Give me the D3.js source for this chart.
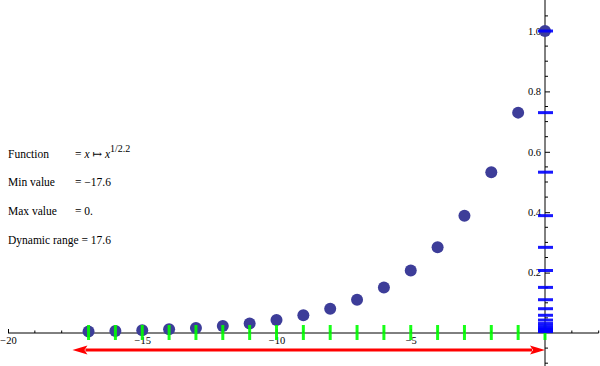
<!DOCTYPE html>
<html>
<head>
	<meta charset="utf-8">
	<title>Gamma 1/2.2</title>
	<script src="https://cdnjs.cloudflare.com/ajax/libs/d3/7.8.5/d3.min.js"></script>
	<style>
		body { margin: 0; background: white; }
		svg { display: block; font-family: "Liberation Serif", "DejaVu Serif", serif; }
		.axis path, .axis line { stroke: black; }
		.axis text { font-size: 10.5px; font-family: "Liberation Serif", serif; fill: black; }
		.info text { font-size: 11.5px; }
	</style>
</head>
<body>
	<svg id="chart" width="600" height="366"></svg>
	<script>
		// stops below max, and encoded value (x -> x^(1/2.2))
		var stops = [-17,-16,-15,-14,-13,-12,-11,-10,-9,-8,-7,-6,-5,-4,-3,-2,-1,0];
		var values = [0.0047,0.0065,0.0089,0.0121,0.0166,0.0228,0.0313,0.0428,0.0587,0.0804,0.1102,0.151,0.2069,0.2836,0.3886,0.5325,0.7297,1.0];
		var xMajor = [-20,-15,-10,-5];
		var xMinor = [-19,-18,-17,-16,-14,-13,-12,-11,-9,-8,-7,-6,-4,-3,-2,-1,0,1,2];
		var yMajor = [0.2,0.4,0.6,0.8,1.0];
		var yMinor = [-0.1,-0.05,0.05,0.1,0.15,0.25,0.3,0.35,0.45,0.5,0.55,0.65,0.7,0.75,0.85,0.9,0.95,1.05];
		var rangeMin = -17.6, rangeMax = 0;
		var infoLabels = ["Function", "Min value", "Max value", "Dynamic range = 17.6"];

		var svg = d3.select("#chart");
		var x = d3.scaleLinear().domain([-20, 2]).range([8, 598.7]);
		var y = d3.scaleLinear().domain([0, 1]).range([333, 31]);

		// x axis
		var gx = svg.append("g").attr("class", "axis")
			.attr("transform", "translate(0," + y(0) + ")");
		gx.call(d3.axisBottom(x).tickValues(xMajor).tickSize(-4).tickPadding(4)
			.tickFormat(function(d){ return d3.format("")(d).replace("-", "\u2212"); }));
		gx.select(".domain").attr("d", "M" + x(-20) + ",0H" + x(2));
		gx.selectAll(".minor").data(xMinor).enter().append("line")
			.attr("x1", function(d){ return x(d); }).attr("x2", function(d){ return x(d); })
			.attr("y1", 0).attr("y2", -2.5).attr("stroke", "black");

		// y axis
		var gy = svg.append("g").attr("class", "axis")
			.attr("transform", "translate(" + x(0) + ",0)");
		gy.call(d3.axisLeft(y).tickValues(yMajor).tickSize(-5).tickPadding(4)
			.tickFormat(d3.format(".1f")));
		gy.select(".domain").attr("d", "M0,0V366");
		gy.selectAll(".minor").data(yMinor).enter().append("line")
			.attr("y1", function(d){ return y(d); }).attr("y2", function(d){ return y(d); })
			.attr("x1", 0).attr("x2", 3).attr("stroke", "black");

		// points
		svg.append("g").selectAll("circle").data(stops).enter().append("circle")
			.attr("cx", function(d){ return x(d); })
			.attr("cy", function(d, i){ return y(values[i]); })
			.attr("r", 6)
			.attr("fill", "#3d3d99");

		// green ticks on x axis at each stop
		svg.append("g").selectAll("line").data(stops).enter().append("line")
			.attr("x1", function(d){ return x(d); }).attr("x2", function(d){ return x(d); })
			.attr("y1", y(0) - 8).attr("y2", y(0) + 7)
			.attr("stroke", "#00ff00").attr("stroke-width", 3).attr("opacity", 0.9);

		// blue ticks on y axis at each value
		svg.append("g").selectAll("line").data(values).enter().append("line")
			.attr("y1", function(d){ return y(d); }).attr("y2", function(d){ return y(d); })
			.attr("x1", x(0) - 7).attr("x2", x(0) + 8)
			.attr("stroke", "#0000ff").attr("stroke-width", 3).attr("opacity", 0.9);

		// red double arrow for dynamic range
		var ay = 350, head = 15, hw = 4.5;
		svg.append("line")
			.attr("x1", x(rangeMin) + head - 2).attr("x2", x(rangeMax) - head + 2)
			.attr("y1", ay).attr("y2", ay)
			.attr("stroke", "#ff0000").attr("stroke-width", 3);
		svg.append("path").attr("fill", "#ff0000")
			.attr("d", "M" + x(rangeMin) + "," + ay + "L" + (x(rangeMin) + head) + "," + (ay - hw) +
				"L" + (x(rangeMin) + head - 3) + "," + ay + "L" + (x(rangeMin) + head) + "," + (ay + hw) + "Z");
		svg.append("path").attr("fill", "#ff0000")
			.attr("d", "M" + x(rangeMax) + "," + ay + "L" + (x(rangeMax) - head) + "," + (ay - hw) +
				"L" + (x(rangeMax) - head + 3) + "," + ay + "L" + (x(rangeMax) - head) + "," + (ay + hw) + "Z");

		// info text
		var info = svg.append("g").attr("class", "info");
		var rows = [158, 186, 215, 244];
		infoLabels.forEach(function(t, i){
			info.append("text").attr("x", 8).attr("y", rows[i]).text(t);
		});
		var f = info.append("text").attr("x", 75).attr("y", rows[0]);
		f.append("tspan").text("= ");
		f.append("tspan").attr("font-style", "italic").text("x");
		f.append("tspan").text(" \u21a6 ");
		f.append("tspan").attr("font-style", "italic").text("x");
		f.append("tspan").attr("dy", -6).attr("font-size", "10px").text("1/2.2");
		info.append("text").attr("x", 75).attr("y", rows[1]).text("= " + String(rangeMin).replace("-", "\u2212"));
		info.append("text").attr("x", 75).attr("y", rows[2]).text("= " + rangeMax + ".");
	</script>
</body>
</html>
